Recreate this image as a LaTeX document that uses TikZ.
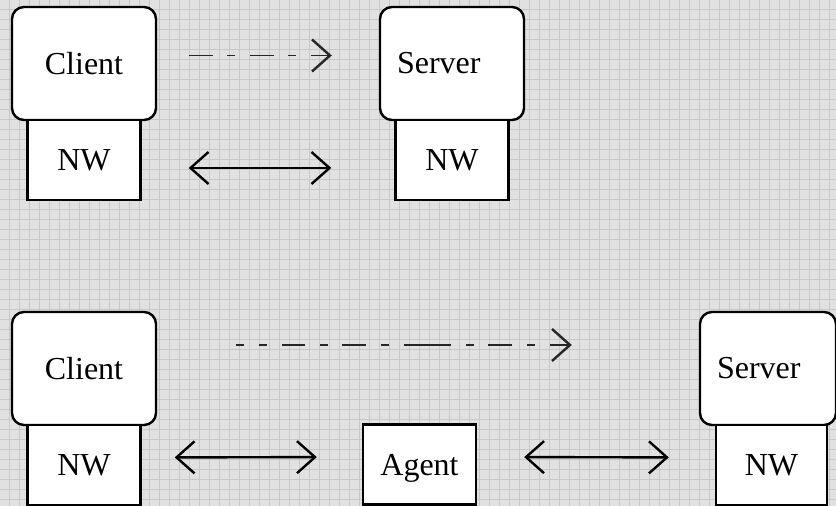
\documentclass[tikz,border=0pt]{standalone}
\usepackage{fontspec}
\setmainfont{Liberation Serif}
\usepackage{tikz}
\usetikzlibrary{arrows.meta,positioning}
\definecolor{gridbg}{HTML}{E1E1E1}
\definecolor{gridln}{HTML}{C8C8C8}

\begin{document}
\begin{tikzpicture}[
				      x=0.5pt, y=-0.5pt,
				      every node/.style = {shape=rectangle, draw, fill=white,
						      line width=1.2pt, font=\fontsize{16pt}{19pt}\selectfont},
				      host/.style = {rounded corners=6pt, minimum width=72pt, minimum height=56.5pt},
				      hostleft/.style = {host, text width=55pt, align=left, inner xsep=8.5pt},
				      nwbox/.style = {minimum width=56.5pt, minimum height=40pt, text depth=-1.5pt},
				      link/.style = {line width=1.2pt,
						      {Straight Barb[length=9pt,width=16pt]}-{Straight Barb[length=9pt,width=16pt]}},
				      msg/.style = {line width=0.75pt, black!85,
						      -{Straight Barb[length=9pt,width=16pt,line width=1.2pt]}},
				      gridline/.style = {gridln, line width=0.5pt}
			      ]

			      \useasboundingbox (0,0) rectangle (836,506);
			      \fill[gridbg] (0,0) rectangle (836,506);
			      \foreach \gx in {9.5,19.5,...,829.5}
				      \draw[gridline] (\gx,0) -- (\gx,506);
			      \foreach \gy in {9.5,19.5,...,499.5}
				      \draw[gridline] (0,\gy) -- (836,\gy);

			      \node[host] (cl1) at (84,63.5) {Client};
			      \node[nwbox, below=-1.2pt of cl1] (nw1) {NW};
			      \node[hostleft] (sv1) at (452,63.5) {Server};
			      \node[nwbox, below=-1.2pt of sv1] (nw2) {NW};

			      \draw[msg, dash pattern=on 12pt off 7pt on 4pt off 7.5pt,
				      shorten <=16pt, shorten >=23.5pt]
				      ([yshift=4pt]cl1.east) -- ([yshift=4pt]sv1.west);
			      \draw[link, shorten <=23.5pt, shorten >=31.5pt]
				      ([yshift=-4pt]nw1.east) -- ([yshift=-4pt]nw2.west);

			      \node[host] (cl2) at (84,368.5) {Client};
			      \node[nwbox, below=-1.2pt of cl2] (nw3) {NW};
			      \node[nwbox] (agent) at (419.5,464.5) {Agent};
			      \node[hostleft, text width=51pt, minimum width=68pt] (sv2) at (768,368.5) {Server};
			      \node[nwbox, minimum width=55.5pt, below=-1.2pt of sv2, xshift=1.75pt] (nw4) {NW};

			      \draw[msg, dash pattern=on 4pt off 7.5pt on 4pt off 7.5pt on 11.5pt off 7.5pt
					      on 4pt off 7pt on 12pt off 7.5pt on 4pt off 7.5pt on 23.5pt off 7.5pt
					      on 4pt off 7pt on 12pt off 7.5pt on 4pt off 7.5pt on 12pt off 0pt,
				      shorten <=39.5pt, shorten >=63.5pt]
				      ([yshift=11.75pt]cl2.east) -- ([yshift=11.75pt]sv2.west);
			      \draw[link, shorten <=16.5pt, shorten >=22.5pt]
				      ([yshift=3.75pt]nw3.east) -- ([yshift=3.75pt]agent.west);
			      \draw[link, shorten <=23.5pt, shorten >=23pt]
				      ([yshift=3.75pt]agent.east) -- ([yshift=3.75pt]nw4.west);
		      \end{tikzpicture}
\end{document}
